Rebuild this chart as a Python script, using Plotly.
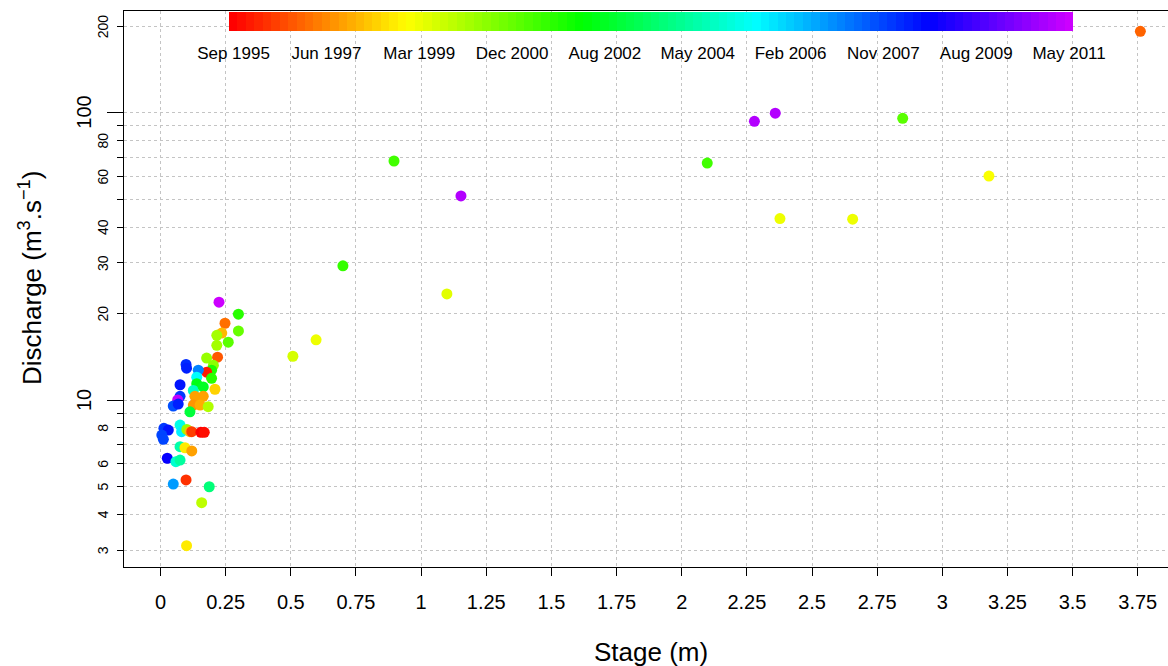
import colorsys
import math
import plotly.graph_objects as go

# Stage–discharge gaugings, coloured by sampling date
stage = [
    3.760, 2.359, 2.279, 2.848, 0.896, 2.098, 1.153, 3.179, 2.377, 2.656,
    0.700, 1.099, 0.597, 0.508,
    0.2245, 0.299, 0.2475, 0.235, 0.299, 0.216, 0.260, 0.216, 0.177, 0.219,
    0.203, 0.196, 0.177, 0.098, 0.100, 0.145, 0.139, 0.139, 0.196, 0.075,
    0.126, 0.209, 0.164, 0.164, 0.132, 0.075, 0.066,
    0.049, 0.068, 0.126, 0.152, 0.113, 0.183, 0.013, 0.030, 0.005, 0.011,
    0.075, 0.081, 0.101, 0.113, 0.120, 0.155, 0.168, 0.075, 0.094, 0.120,
    0.026, 0.059, 0.075, 0.049, 0.098, 0.187, 0.158, 0.100,
]
discharge = [
    192.0, 99.6, 93.3, 95.6, 67.9, 66.8, 51.3, 60.2, 42.8, 42.6,
    29.3, 23.4, 16.2, 14.2,
    21.9, 19.9, 18.5, 17.1, 17.4, 16.8, 15.9, 15.5, 14.0, 14.1,
    13.2, 12.7, 12.5, 13.3, 12.9, 12.7, 12.0, 11.4, 11.9, 11.3,
    10.8, 10.9, 11.1, 10.3, 10.3, 10.3, 10.0,
    9.53, 9.68, 9.60, 9.60, 9.10, 9.48, 7.97, 7.86, 7.55, 7.30,
    8.18, 7.76, 7.90, 7.76, 7.76, 7.72, 7.72, 6.88, 6.82, 6.65,
    6.27, 6.10, 6.18, 5.10, 5.27, 4.99, 4.39, 3.11,
]
sampled = [
    "1997-01", "2011-01", "2011-02", "2001-02", "2001-05", "2001-06", "2011-01",
    "1999-01", "1999-02", "1999-02", "2001-08", "1999-04", "1999-03", "1999-06",
    "2011-05", "2001-09", "1997-03", "1998-01", "2000-11", "2000-02", "2001-01",
    "2000-03", "2000-04", "1996-10", "2000-06", "2001-11", "1996-01", "2008-03",
    "2008-05", "2007-02", "2005-06", "2002-06", "2001-10", "2008-06", "2004-09",
    "1998-06", "2002-08", "1997-10", "1997-09", "2008-01", "2011-03",
    "2007-09", "2008-04", "1997-08", "1997-11", "2003-01", "2000-01", "2008-02",
    "2008-07", "2007-12", "2007-11", "2005-03", "2005-09", "2000-05", "1998-02",
    "1996-06", "1995-09", "1995-10", "2004-06", "1998-09", "1997-10", "2008-10",
    "2004-12", "2004-03", "2006-10", "1996-05", "2003-09", "1999-10", "1998-10",
]

date_labels = ["Sep 1995", "Jun 1997", "Mar 1999", "Dec 2000", "Aug 2002",
               "May 2004", "Feb 2006", "Nov 2007", "Aug 2009", "May 2011"]

x_ticks = [0, 0.25, 0.5, 0.75, 1, 1.25, 1.5, 1.75, 2, 2.25, 2.5, 2.75, 3,
           3.25, 3.5, 3.75]
x_ticktext = ["0", "0.25", "0.5", "0.75", "1", "1.25", "1.5", "1.75", "2",
              "2.25", "2.5", "2.75", "3", "3.25", "3.5", "3.75"]
y_major = [10, 100]
y_minor = [3, 4, 5, 6, 7, 8, 9, 20, 30, 40, 50, 60, 70, 80, 90, 200]
y_small_labels = [3, 4, 5, 6, 8, 20, 30, 40, 60, 80, 200]

FONT = "Liberation Sans, Arial, sans-serif"
GRID = "#C4C4C4"
GRID_DASH = "3px,3px"
GRID_W = 1.3


def decimal_year(s):
    y, m = s.split("-")
    return int(y) + (int(m) - 1) / 12.0


t = [decimal_year(s) for s in sampled]
t_first, t_last = min(t), max(t)

# 100-step rainbow (red -> purple) like R's rainbow(100, end = 0.8)
n_col = 100
hues = [0.8 * i / (n_col - 1) for i in range(n_col)]
cols = []
for h in hues:
    r, g, b = colorsys.hsv_to_rgb(h, 1, 1)
    cols.append("rgb(%d,%d,%d)" % (round(r * 255), round(g * 255), round(b * 255)))
scale = []
for i, c in enumerate(cols):
    scale.append([i / n_col, c])
    scale.append([(i + 1) / n_col, c])

step = (t_last - t_first) / (n_col - 1)
cmin, cmax = t_first - step / 2, t_last + step / 2
label_vals = [t_first + k * (t_last - t_first) / (len(date_labels) - 1)
              for k in range(len(date_labels))]

# figure geometry (px)
W, H = 1168, 666
ML, MT, MB = 124, 11, 99
plot_w, plot_h = W - ML, H - MT - MB
PX_PER_M = 260.6
PX_PER_DECADE = 287.3

fig = go.Figure()
fig.add_trace(go.Scatter(
    x=stage, y=discharge, mode="markers",
    marker=dict(
        size=11, color=t, colorscale=scale, cmin=cmin, cmax=cmax,
        line=dict(width=0), opacity=1,
        showscale=True,
        colorbar=dict(
            orientation="h", xref="paper", yref="paper",
            x=(651.3 - ML) / plot_w, xanchor="center",
            y=(MT + plot_h - 12) / plot_h, yanchor="top",
            len=844, lenmode="pixels", thickness=19, thicknessmode="pixels",
            xpad=0, ypad=0, outlinewidth=0, borderwidth=0,
            tickmode="array", tickvals=label_vals, ticktext=date_labels,
            ticks="outside", ticklen=8, tickcolor="rgba(0,0,0,0)",
            tickfont=dict(family=FONT, size=17, color="black"),
        ),
    ),
    hoverinfo="x+y",
    showlegend=False,
))

fig.update_layout(
    width=W, height=H,
    margin=dict(l=ML, r=0, t=MT, b=MB, pad=0),
    paper_bgcolor="white", plot_bgcolor="white",
    font=dict(family=FONT, color="black"),
)

x_lo = (ML - 160.5) / PX_PER_M
x_hi = x_lo + plot_w / PX_PER_M
fig.update_xaxes(
    range=[x_lo, x_hi], tickmode="array", tickvals=x_ticks, ticktext=x_ticktext,
    ticks="outside", ticklen=8, tickwidth=1, tickcolor="black",
    tickfont=dict(family=FONT, size=20, color="black"), ticklabelstandoff=9,
    showline=True, linecolor="black", linewidth=1, mirror=True,
    showgrid=True, gridcolor=GRID, gridwidth=GRID_W, griddash=GRID_DASH,
    zeroline=False,
)

y_lo = 1 - (MT + plot_h - 400) / PX_PER_DECADE
y_hi = y_lo + plot_h / PX_PER_DECADE
fig.update_yaxes(
    type="log", range=[y_lo, y_hi],
    tickmode="array", tickvals=y_major, showticklabels=False,
    ticks="outside", ticklen=16, tickwidth=1, tickcolor="black",
    showline=True, linecolor="black", linewidth=1, mirror=False,
    showgrid=True, gridcolor=GRID, gridwidth=GRID_W, griddash=GRID_DASH,
    zeroline=False,
    minor=dict(tickmode="array", tickvals=y_minor, ticks="outside", ticklen=6,
               tickwidth=1, tickcolor="black", showgrid=True,
               gridcolor=GRID, gridwidth=GRID_W, griddash=GRID_DASH),
)

# rotated tick labels on the log axis: small for minor values, large for decades
annotations = []
for v in y_small_labels:
    annotations.append(dict(
        text=str(v), xref="paper", yref="y", x=0, y=math.log10(v),
        xanchor="center", yanchor="middle", xshift=103 - ML, textangle=-90,
        showarrow=False, font=dict(family=FONT, size=14, color="black"),
    ))
for v in y_major:
    annotations.append(dict(
        text=str(v), xref="paper", yref="y", x=0, y=math.log10(v),
        xanchor="center", yanchor="middle", xshift=84 - ML, textangle=-90,
        showarrow=False, font=dict(family=FONT, size=20, color="black"),
    ))

# axis titles
annotations.append(dict(
    text="Stage (m)", xref="paper", yref="paper", x=(651 - ML) / plot_w, y=0,
    xanchor="center", yanchor="middle", yshift=-(652 - (MT + plot_h)),
    showarrow=False, font=dict(family=FONT, size=26, color="black"),
))
annotations.append(dict(
    text="Discharge (m<sup>3</sup>.s<sup>\u22121</sup>)", xref="paper", yref="paper",
    x=0, y=(MT + plot_h - 278) / plot_h, xanchor="center", yanchor="middle",
    xshift=30 - ML, textangle=-90,
    showarrow=False, font=dict(family=FONT, size=26, color="black"),
))
fig.update_layout(annotations=annotations)

fig.write_html("out.html")
